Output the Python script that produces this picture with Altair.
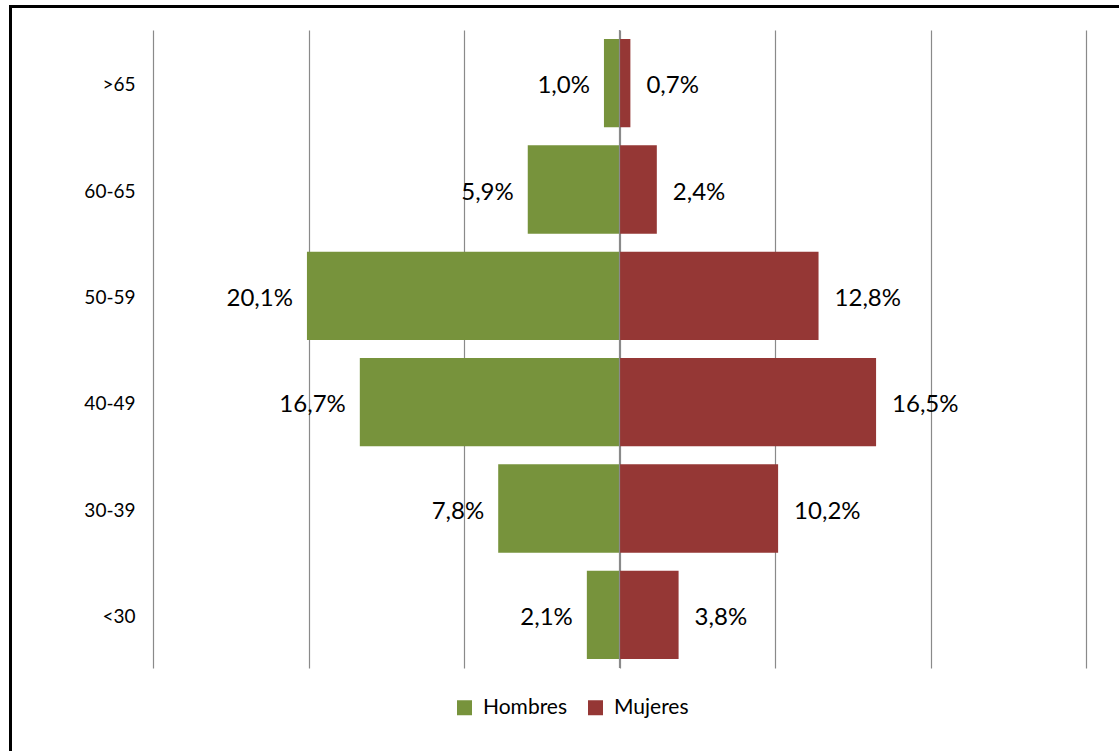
import altair as alt
import pandas as pd

ages = [">65", "60-65", "50-59", "40-49", "30-39", "<30"]
hombres = [1.0, 5.9, 20.1, 16.7, 7.8, 2.1]
mujeres = [0.7, 2.4, 12.8, 16.5, 10.2, 3.8]
series = ["Hombres", "Mujeres"]
colors = ["#77933C", "#953735"]
x_ticks = [-30, -20, -10, 0, 10, 20, 30]

rows = []
for a, h, m in zip(ages, hombres, mujeres):
    rows.append({"age": a, "sexo": "Hombres", "value": -h,
                 "label": f"{h:.1f}%".replace(".", ",")})
    rows.append({"age": a, "sexo": "Mujeres", "value": m,
                 "label": f"{m:.1f}%".replace(".", ",")})
df = pd.DataFrame(rows)

FONT = "Lato"
W, H = 933, 638

xscale = alt.Scale(domain=[-30, 30], nice=False, zero=False)
yenc = alt.Y("age:N", sort=ages, scale=alt.Scale(paddingInner=0.17, paddingOuter=0.085),
             axis=alt.Axis(title=None, ticks=False, domain=False, grid=False,
                           labelFont=FONT, labelFontSize=19, labelColor="#000000",
                           labelPadding=18, labelOffset=2))

base = alt.Chart(df)

bars = base.mark_bar().encode(
    x=alt.X("value:Q", scale=xscale,
            axis=alt.Axis(values=x_ticks, labels=False, ticks=False, domain=False,
                          title=None, grid=True, gridColor="#8a8a8a", gridWidth=1.2)),
    y=yenc,
    color=alt.Color("sexo:N", scale=alt.Scale(domain=series, range=colors),
                    legend=alt.Legend(title=None, orient="none", direction="horizontal",
                                      legendX=301, legendY=667,
                                      symbolType="square", symbolSize=225,
                                      symbolStrokeWidth=0,
                                      labelFont=FONT, labelFontSize=21,
                                      labelColor="#000000", labelOffset=8,
                                      columnPadding=17)),
)

zero = alt.Chart(pd.DataFrame({"v": [0]})).mark_rule(color="#8a8a8a", strokeWidth=1.2).encode(
    x=alt.X("v:Q", scale=xscale)
)

text_h = base.transform_filter(alt.datum.sexo == "Hombres").mark_text(
    align="right", baseline="middle", dx=-14, dy=3, font=FONT, fontSize=24, color="#000000"
).encode(x=alt.X("value:Q", scale=xscale), y=alt.Y("age:N", sort=ages), text="label:N")

text_m = base.transform_filter(alt.datum.sexo == "Mujeres").mark_text(
    align="left", baseline="middle", dx=16, dy=3, font=FONT, fontSize=24, color="#000000"
).encode(x=alt.X("value:Q", scale=xscale), y=alt.Y("age:N", sort=ages), text="label:N")

frame = alt.Chart(pd.DataFrame({"d": [0]})).mark_rect(
    fill=None, stroke="#000000", strokeWidth=3, clip=False
).encode(
    x=alt.value(-142.5), x2=alt.value(1119 - 153 + 20),
    y=alt.value(-23.5), y2=alt.value(751 - 30 + 20),
)

chart = alt.layer(bars, zero, text_h, text_m, frame).properties(
    width=W, height=H,
    autosize=alt.AutoSizeParams(type="none"),
    padding={"left": 153, "top": 30, "right": 33, "bottom": 83},
    background="white",
).configure_view(stroke=None)

chart.save("out.html", embed_options={"renderer": "svg", "actions": False})
